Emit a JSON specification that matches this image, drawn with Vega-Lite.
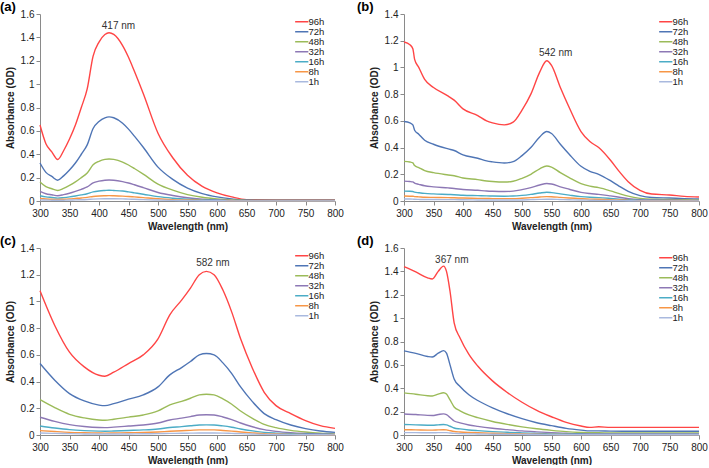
{
"$schema": "https://vega.github.io/schema/vega-lite/v6.json",
"padding": {"left": 0, "top": 1, "right": 0, "bottom": 0},
"autosize": {"type": "pad"},
"datasets": {
"a": [
{"s":"96h","x":300,"y":0.65},{"s":"96h","x":310,"y":0.49},{"s":"96h","x":320,"y":0.42},{"s":"96h","x":330,"y":0.355},{"s":"96h","x":340,"y":0.43},{"s":"96h","x":350,"y":0.53},{"s":"96h","x":360,"y":0.65},{"s":"96h","x":370,"y":0.8},{"s":"96h","x":380,"y":0.96},{"s":"96h","x":390,"y":1.24},{"s":"96h","x":400,"y":1.36},{"s":"96h","x":410,"y":1.425},{"s":"96h","x":417,"y":1.44},{"s":"96h","x":425,"y":1.425},{"s":"96h","x":440,"y":1.33},{"s":"96h","x":450,"y":1.23},{"s":"96h","x":460,"y":1.11},{"s":"96h","x":475,"y":0.92},{"s":"96h","x":500,"y":0.58},{"s":"96h","x":525,"y":0.37},{"s":"96h","x":550,"y":0.22},{"s":"96h","x":575,"y":0.125},{"s":"96h","x":600,"y":0.07},{"s":"96h","x":625,"y":0.035},{"s":"96h","x":650,"y":0.012},{"s":"96h","x":700,"y":0.01},{"s":"96h","x":750,"y":0.01},{"s":"96h","x":800,"y":0.01},
{"s":"72h","x":300,"y":0.325},{"s":"72h","x":310,"y":0.245},{"s":"72h","x":320,"y":0.21},{"s":"72h","x":330,"y":0.178},{"s":"72h","x":340,"y":0.215},{"s":"72h","x":350,"y":0.265},{"s":"72h","x":360,"y":0.325},{"s":"72h","x":370,"y":0.4},{"s":"72h","x":380,"y":0.48},{"s":"72h","x":390,"y":0.62},{"s":"72h","x":400,"y":0.68},{"s":"72h","x":410,"y":0.712},{"s":"72h","x":417,"y":0.72},{"s":"72h","x":425,"y":0.712},{"s":"72h","x":440,"y":0.665},{"s":"72h","x":450,"y":0.615},{"s":"72h","x":460,"y":0.555},{"s":"72h","x":475,"y":0.46},{"s":"72h","x":500,"y":0.29},{"s":"72h","x":525,"y":0.185},{"s":"72h","x":550,"y":0.11},{"s":"72h","x":575,"y":0.063},{"s":"72h","x":600,"y":0.035},{"s":"72h","x":625,"y":0.018},{"s":"72h","x":650,"y":0.008},{"s":"72h","x":700,"y":0.007},{"s":"72h","x":750,"y":0.007},{"s":"72h","x":800,"y":0.007},
{"s":"48h","x":300,"y":0.163},{"s":"48h","x":310,"y":0.123},{"s":"48h","x":320,"y":0.105},{"s":"48h","x":330,"y":0.09},{"s":"48h","x":340,"y":0.108},{"s":"48h","x":350,"y":0.133},{"s":"48h","x":360,"y":0.163},{"s":"48h","x":370,"y":0.2},{"s":"48h","x":380,"y":0.24},{"s":"48h","x":390,"y":0.31},{"s":"48h","x":400,"y":0.34},{"s":"48h","x":410,"y":0.356},{"s":"48h","x":417,"y":0.36},{"s":"48h","x":425,"y":0.356},{"s":"48h","x":440,"y":0.333},{"s":"48h","x":450,"y":0.308},{"s":"48h","x":460,"y":0.278},{"s":"48h","x":475,"y":0.23},{"s":"48h","x":500,"y":0.145},{"s":"48h","x":525,"y":0.093},{"s":"48h","x":550,"y":0.055},{"s":"48h","x":575,"y":0.032},{"s":"48h","x":600,"y":0.018},{"s":"48h","x":625,"y":0.009},{"s":"48h","x":650,"y":0.005},{"s":"48h","x":700,"y":0.005},{"s":"48h","x":750,"y":0.005},{"s":"48h","x":800,"y":0.005},
{"s":"32h","x":300,"y":0.082},{"s":"32h","x":310,"y":0.062},{"s":"32h","x":320,"y":0.053},{"s":"32h","x":330,"y":0.045},{"s":"32h","x":340,"y":0.054},{"s":"32h","x":350,"y":0.066},{"s":"32h","x":360,"y":0.082},{"s":"32h","x":370,"y":0.1},{"s":"32h","x":380,"y":0.12},{"s":"32h","x":390,"y":0.155},{"s":"32h","x":400,"y":0.17},{"s":"32h","x":410,"y":0.178},{"s":"32h","x":417,"y":0.18},{"s":"32h","x":425,"y":0.178},{"s":"32h","x":440,"y":0.166},{"s":"32h","x":450,"y":0.154},{"s":"32h","x":460,"y":0.139},{"s":"32h","x":475,"y":0.115},{"s":"32h","x":500,"y":0.073},{"s":"32h","x":525,"y":0.047},{"s":"32h","x":550,"y":0.028},{"s":"32h","x":575,"y":0.016},{"s":"32h","x":600,"y":0.009},{"s":"32h","x":625,"y":0.005},{"s":"32h","x":650,"y":0.003},{"s":"32h","x":700,"y":0.003},{"s":"32h","x":750,"y":0.003},{"s":"32h","x":800,"y":0.003},
{"s":"16h","x":300,"y":0.045},{"s":"16h","x":310,"y":0.035},{"s":"16h","x":320,"y":0.03},{"s":"16h","x":330,"y":0.025},{"s":"16h","x":340,"y":0.029},{"s":"16h","x":350,"y":0.035},{"s":"16h","x":360,"y":0.043},{"s":"16h","x":370,"y":0.052},{"s":"16h","x":380,"y":0.062},{"s":"16h","x":390,"y":0.078},{"s":"16h","x":400,"y":0.086},{"s":"16h","x":410,"y":0.09},{"s":"16h","x":417,"y":0.092},{"s":"16h","x":425,"y":0.09},{"s":"16h","x":440,"y":0.085},{"s":"16h","x":450,"y":0.078},{"s":"16h","x":460,"y":0.07},{"s":"16h","x":475,"y":0.058},{"s":"16h","x":500,"y":0.037},{"s":"16h","x":525,"y":0.024},{"s":"16h","x":550,"y":0.015},{"s":"16h","x":575,"y":0.009},{"s":"16h","x":600,"y":0.005},{"s":"16h","x":625,"y":0.003},{"s":"16h","x":650,"y":0.002},{"s":"16h","x":700,"y":0.002},{"s":"16h","x":750,"y":0.002},{"s":"16h","x":800,"y":0.002},
{"s":"8h","x":300,"y":0.022},{"s":"8h","x":310,"y":0.017},{"s":"8h","x":320,"y":0.015},{"s":"8h","x":330,"y":0.013},{"s":"8h","x":340,"y":0.015},{"s":"8h","x":350,"y":0.018},{"s":"8h","x":360,"y":0.022},{"s":"8h","x":370,"y":0.026},{"s":"8h","x":380,"y":0.031},{"s":"8h","x":390,"y":0.039},{"s":"8h","x":400,"y":0.043},{"s":"8h","x":410,"y":0.045},{"s":"8h","x":417,"y":0.046},{"s":"8h","x":425,"y":0.045},{"s":"8h","x":440,"y":0.042},{"s":"8h","x":450,"y":0.039},{"s":"8h","x":460,"y":0.035},{"s":"8h","x":475,"y":0.029},{"s":"8h","x":500,"y":0.019},{"s":"8h","x":525,"y":0.012},{"s":"8h","x":550,"y":0.008},{"s":"8h","x":575,"y":0.005},{"s":"8h","x":600,"y":0.003},{"s":"8h","x":625,"y":0.002},{"s":"8h","x":650,"y":0.001},{"s":"8h","x":700,"y":0.001},{"s":"8h","x":750,"y":0.001},{"s":"8h","x":800,"y":0.001},
{"s":"1h","x":300,"y":0.01},{"s":"1h","x":310,"y":0.008},{"s":"1h","x":320,"y":0.007},{"s":"1h","x":330,"y":0.006},{"s":"1h","x":340,"y":0.007},{"s":"1h","x":350,"y":0.008},{"s":"1h","x":360,"y":0.01},{"s":"1h","x":370,"y":0.011},{"s":"1h","x":380,"y":0.013},{"s":"1h","x":390,"y":0.016},{"s":"1h","x":400,"y":0.018},{"s":"1h","x":410,"y":0.019},{"s":"1h","x":417,"y":0.019},{"s":"1h","x":425,"y":0.019},{"s":"1h","x":440,"y":0.018},{"s":"1h","x":450,"y":0.016},{"s":"1h","x":460,"y":0.015},{"s":"1h","x":475,"y":0.012},{"s":"1h","x":500,"y":0.008},{"s":"1h","x":525,"y":0.005},{"s":"1h","x":550,"y":0.004},{"s":"1h","x":575,"y":0.002},{"s":"1h","x":600,"y":0.002},{"s":"1h","x":625,"y":0.001},{"s":"1h","x":650,"y":0.001},{"s":"1h","x":700,"y":0.001},{"s":"1h","x":750,"y":0.001},{"s":"1h","x":800,"y":0.001}
],
"b": [
{"s":"96h","x":300,"y":1.19},{"s":"96h","x":310,"y":1.17},{"s":"96h","x":315,"y":1.14},{"s":"96h","x":318,"y":1.06},{"s":"96h","x":325,"y":1.0},{"s":"96h","x":335,"y":0.91},{"s":"96h","x":350,"y":0.85},{"s":"96h","x":375,"y":0.785},{"s":"96h","x":385,"y":0.755},{"s":"96h","x":400,"y":0.69},{"s":"96h","x":425,"y":0.64},{"s":"96h","x":440,"y":0.6},{"s":"96h","x":450,"y":0.585},{"s":"96h","x":470,"y":0.57},{"s":"96h","x":485,"y":0.59},{"s":"96h","x":500,"y":0.68},{"s":"96h","x":515,"y":0.8},{"s":"96h","x":530,"y":0.965},{"s":"96h","x":542,"y":1.05},{"s":"96h","x":550,"y":1.015},{"s":"96h","x":565,"y":0.85},{"s":"96h","x":580,"y":0.7},{"s":"96h","x":600,"y":0.52},{"s":"96h","x":615,"y":0.445},{"s":"96h","x":630,"y":0.4},{"s":"96h","x":650,"y":0.305},{"s":"96h","x":665,"y":0.22},{"s":"96h","x":680,"y":0.145},{"s":"96h","x":700,"y":0.08},{"s":"96h","x":720,"y":0.052},{"s":"96h","x":750,"y":0.045},{"s":"96h","x":775,"y":0.035},{"s":"96h","x":800,"y":0.03},
{"s":"72h","x":300,"y":0.595},{"s":"72h","x":310,"y":0.585},{"s":"72h","x":315,"y":0.57},{"s":"72h","x":318,"y":0.53},{"s":"72h","x":325,"y":0.5},{"s":"72h","x":335,"y":0.455},{"s":"72h","x":350,"y":0.425},{"s":"72h","x":375,"y":0.39},{"s":"72h","x":385,"y":0.378},{"s":"72h","x":400,"y":0.345},{"s":"72h","x":425,"y":0.32},{"s":"72h","x":440,"y":0.3},{"s":"72h","x":450,"y":0.293},{"s":"72h","x":470,"y":0.285},{"s":"72h","x":485,"y":0.295},{"s":"72h","x":500,"y":0.34},{"s":"72h","x":515,"y":0.4},{"s":"72h","x":530,"y":0.48},{"s":"72h","x":542,"y":0.52},{"s":"72h","x":550,"y":0.505},{"s":"72h","x":565,"y":0.425},{"s":"72h","x":580,"y":0.35},{"s":"72h","x":600,"y":0.26},{"s":"72h","x":615,"y":0.222},{"s":"72h","x":630,"y":0.2},{"s":"72h","x":650,"y":0.152},{"s":"72h","x":665,"y":0.11},{"s":"72h","x":680,"y":0.072},{"s":"72h","x":700,"y":0.04},{"s":"72h","x":720,"y":0.026},{"s":"72h","x":750,"y":0.022},{"s":"72h","x":775,"y":0.018},{"s":"72h","x":800,"y":0.015},
{"s":"48h","x":300,"y":0.297},{"s":"48h","x":310,"y":0.292},{"s":"48h","x":315,"y":0.285},{"s":"48h","x":318,"y":0.265},{"s":"48h","x":325,"y":0.25},{"s":"48h","x":335,"y":0.228},{"s":"48h","x":350,"y":0.212},{"s":"48h","x":375,"y":0.195},{"s":"48h","x":385,"y":0.189},{"s":"48h","x":400,"y":0.172},{"s":"48h","x":425,"y":0.16},{"s":"48h","x":440,"y":0.15},{"s":"48h","x":450,"y":0.146},{"s":"48h","x":470,"y":0.142},{"s":"48h","x":485,"y":0.148},{"s":"48h","x":500,"y":0.17},{"s":"48h","x":515,"y":0.2},{"s":"48h","x":530,"y":0.241},{"s":"48h","x":542,"y":0.262},{"s":"48h","x":550,"y":0.254},{"s":"48h","x":565,"y":0.212},{"s":"48h","x":580,"y":0.175},{"s":"48h","x":600,"y":0.13},{"s":"48h","x":615,"y":0.111},{"s":"48h","x":630,"y":0.1},{"s":"48h","x":650,"y":0.076},{"s":"48h","x":665,"y":0.055},{"s":"48h","x":680,"y":0.036},{"s":"48h","x":700,"y":0.02},{"s":"48h","x":720,"y":0.013},{"s":"48h","x":750,"y":0.011},{"s":"48h","x":775,"y":0.009},{"s":"48h","x":800,"y":0.008},
{"s":"32h","x":300,"y":0.149},{"s":"32h","x":310,"y":0.146},{"s":"32h","x":315,"y":0.143},{"s":"32h","x":318,"y":0.133},{"s":"32h","x":325,"y":0.125},{"s":"32h","x":335,"y":0.114},{"s":"32h","x":350,"y":0.106},{"s":"32h","x":375,"y":0.098},{"s":"32h","x":385,"y":0.094},{"s":"32h","x":400,"y":0.086},{"s":"32h","x":425,"y":0.08},{"s":"32h","x":440,"y":0.075},{"s":"32h","x":450,"y":0.073},{"s":"32h","x":470,"y":0.071},{"s":"32h","x":485,"y":0.074},{"s":"32h","x":500,"y":0.085},{"s":"32h","x":515,"y":0.1},{"s":"32h","x":530,"y":0.12},{"s":"32h","x":542,"y":0.131},{"s":"32h","x":550,"y":0.127},{"s":"32h","x":565,"y":0.106},{"s":"32h","x":580,"y":0.088},{"s":"32h","x":600,"y":0.065},{"s":"32h","x":615,"y":0.056},{"s":"32h","x":630,"y":0.05},{"s":"32h","x":650,"y":0.038},{"s":"32h","x":665,"y":0.028},{"s":"32h","x":680,"y":0.018},{"s":"32h","x":700,"y":0.01},{"s":"32h","x":720,"y":0.007},{"s":"32h","x":750,"y":0.006},{"s":"32h","x":775,"y":0.005},{"s":"32h","x":800,"y":0.004},
{"s":"16h","x":300,"y":0.074},{"s":"16h","x":310,"y":0.073},{"s":"16h","x":315,"y":0.071},{"s":"16h","x":318,"y":0.066},{"s":"16h","x":325,"y":0.062},{"s":"16h","x":335,"y":0.057},{"s":"16h","x":350,"y":0.053},{"s":"16h","x":375,"y":0.049},{"s":"16h","x":385,"y":0.047},{"s":"16h","x":400,"y":0.043},{"s":"16h","x":425,"y":0.04},{"s":"16h","x":440,"y":0.038},{"s":"16h","x":450,"y":0.037},{"s":"16h","x":470,"y":0.036},{"s":"16h","x":485,"y":0.037},{"s":"16h","x":500,"y":0.042},{"s":"16h","x":515,"y":0.05},{"s":"16h","x":530,"y":0.06},{"s":"16h","x":542,"y":0.066},{"s":"16h","x":550,"y":0.063},{"s":"16h","x":565,"y":0.053},{"s":"16h","x":580,"y":0.044},{"s":"16h","x":600,"y":0.033},{"s":"16h","x":615,"y":0.028},{"s":"16h","x":630,"y":0.025},{"s":"16h","x":650,"y":0.019},{"s":"16h","x":665,"y":0.014},{"s":"16h","x":680,"y":0.009},{"s":"16h","x":700,"y":0.005},{"s":"16h","x":720,"y":0.004},{"s":"16h","x":750,"y":0.003},{"s":"16h","x":775,"y":0.003},{"s":"16h","x":800,"y":0.002},
{"s":"8h","x":300,"y":0.037},{"s":"8h","x":310,"y":0.036},{"s":"8h","x":315,"y":0.036},{"s":"8h","x":318,"y":0.033},{"s":"8h","x":325,"y":0.031},{"s":"8h","x":335,"y":0.028},{"s":"8h","x":350,"y":0.027},{"s":"8h","x":375,"y":0.025},{"s":"8h","x":385,"y":0.024},{"s":"8h","x":400,"y":0.022},{"s":"8h","x":425,"y":0.02},{"s":"8h","x":440,"y":0.019},{"s":"8h","x":450,"y":0.018},{"s":"8h","x":470,"y":0.018},{"s":"8h","x":485,"y":0.018},{"s":"8h","x":500,"y":0.021},{"s":"8h","x":515,"y":0.025},{"s":"8h","x":530,"y":0.03},{"s":"8h","x":542,"y":0.033},{"s":"8h","x":550,"y":0.032},{"s":"8h","x":565,"y":0.027},{"s":"8h","x":580,"y":0.022},{"s":"8h","x":600,"y":0.017},{"s":"8h","x":615,"y":0.014},{"s":"8h","x":630,"y":0.013},{"s":"8h","x":650,"y":0.01},{"s":"8h","x":665,"y":0.007},{"s":"8h","x":680,"y":0.005},{"s":"8h","x":700,"y":0.003},{"s":"8h","x":720,"y":0.002},{"s":"8h","x":750,"y":0.002},{"s":"8h","x":775,"y":0.002},{"s":"8h","x":800,"y":0.001},
{"s":"1h","x":300,"y":0.015},{"s":"1h","x":310,"y":0.015},{"s":"1h","x":315,"y":0.014},{"s":"1h","x":318,"y":0.013},{"s":"1h","x":325,"y":0.012},{"s":"1h","x":335,"y":0.011},{"s":"1h","x":350,"y":0.011},{"s":"1h","x":375,"y":0.01},{"s":"1h","x":385,"y":0.01},{"s":"1h","x":400,"y":0.009},{"s":"1h","x":425,"y":0.008},{"s":"1h","x":440,"y":0.008},{"s":"1h","x":450,"y":0.007},{"s":"1h","x":470,"y":0.007},{"s":"1h","x":485,"y":0.007},{"s":"1h","x":500,"y":0.008},{"s":"1h","x":515,"y":0.01},{"s":"1h","x":530,"y":0.012},{"s":"1h","x":542,"y":0.013},{"s":"1h","x":550,"y":0.013},{"s":"1h","x":565,"y":0.011},{"s":"1h","x":580,"y":0.009},{"s":"1h","x":600,"y":0.007},{"s":"1h","x":615,"y":0.006},{"s":"1h","x":630,"y":0.005},{"s":"1h","x":650,"y":0.004},{"s":"1h","x":665,"y":0.003},{"s":"1h","x":680,"y":0.002},{"s":"1h","x":700,"y":0.001},{"s":"1h","x":720,"y":0.001},{"s":"1h","x":750,"y":0.001},{"s":"1h","x":775,"y":0.001},{"s":"1h","x":800,"y":0.001}
],
"c": [
{"s":"96h","x":300,"y":1.08},{"s":"96h","x":325,"y":0.82},{"s":"96h","x":350,"y":0.62},{"s":"96h","x":375,"y":0.51},{"s":"96h","x":400,"y":0.447},{"s":"96h","x":410,"y":0.44},{"s":"96h","x":425,"y":0.47},{"s":"96h","x":450,"y":0.535},{"s":"96h","x":475,"y":0.6},{"s":"96h","x":500,"y":0.72},{"s":"96h","x":520,"y":0.9},{"s":"96h","x":540,"y":1.01},{"s":"96h","x":555,"y":1.1},{"s":"96h","x":570,"y":1.2},{"s":"96h","x":582,"y":1.225},{"s":"96h","x":595,"y":1.2},{"s":"96h","x":610,"y":1.085},{"s":"96h","x":625,"y":0.92},{"s":"96h","x":640,"y":0.72},{"s":"96h","x":660,"y":0.5},{"s":"96h","x":680,"y":0.32},{"s":"96h","x":700,"y":0.22},{"s":"96h","x":725,"y":0.16},{"s":"96h","x":750,"y":0.108},{"s":"96h","x":775,"y":0.07},{"s":"96h","x":800,"y":0.05},
{"s":"72h","x":300,"y":0.535},{"s":"72h","x":325,"y":0.41},{"s":"72h","x":350,"y":0.31},{"s":"72h","x":375,"y":0.255},{"s":"72h","x":400,"y":0.224},{"s":"72h","x":410,"y":0.22},{"s":"72h","x":425,"y":0.235},{"s":"72h","x":450,"y":0.268},{"s":"72h","x":475,"y":0.3},{"s":"72h","x":500,"y":0.36},{"s":"72h","x":520,"y":0.45},{"s":"72h","x":540,"y":0.505},{"s":"72h","x":555,"y":0.55},{"s":"72h","x":570,"y":0.6},{"s":"72h","x":582,"y":0.61},{"s":"72h","x":595,"y":0.6},{"s":"72h","x":610,"y":0.54},{"s":"72h","x":625,"y":0.46},{"s":"72h","x":640,"y":0.36},{"s":"72h","x":660,"y":0.25},{"s":"72h","x":680,"y":0.16},{"s":"72h","x":700,"y":0.115},{"s":"72h","x":725,"y":0.075},{"s":"72h","x":750,"y":0.048},{"s":"72h","x":775,"y":0.03},{"s":"72h","x":800,"y":0.02},
{"s":"48h","x":300,"y":0.265},{"s":"48h","x":325,"y":0.205},{"s":"48h","x":350,"y":0.155},{"s":"48h","x":375,"y":0.128},{"s":"48h","x":400,"y":0.112},{"s":"48h","x":410,"y":0.11},{"s":"48h","x":425,"y":0.118},{"s":"48h","x":450,"y":0.134},{"s":"48h","x":475,"y":0.15},{"s":"48h","x":500,"y":0.18},{"s":"48h","x":520,"y":0.225},{"s":"48h","x":540,"y":0.252},{"s":"48h","x":555,"y":0.275},{"s":"48h","x":570,"y":0.3},{"s":"48h","x":582,"y":0.305},{"s":"48h","x":595,"y":0.3},{"s":"48h","x":610,"y":0.27},{"s":"48h","x":625,"y":0.23},{"s":"48h","x":640,"y":0.18},{"s":"48h","x":660,"y":0.125},{"s":"48h","x":680,"y":0.08},{"s":"48h","x":700,"y":0.055},{"s":"48h","x":725,"y":0.035},{"s":"48h","x":750,"y":0.022},{"s":"48h","x":775,"y":0.013},{"s":"48h","x":800,"y":0.008},
{"s":"32h","x":300,"y":0.133},{"s":"32h","x":325,"y":0.102},{"s":"32h","x":350,"y":0.078},{"s":"32h","x":375,"y":0.064},{"s":"32h","x":400,"y":0.056},{"s":"32h","x":410,"y":0.055},{"s":"32h","x":425,"y":0.059},{"s":"32h","x":450,"y":0.067},{"s":"32h","x":475,"y":0.075},{"s":"32h","x":500,"y":0.09},{"s":"32h","x":520,"y":0.112},{"s":"32h","x":540,"y":0.126},{"s":"32h","x":555,"y":0.138},{"s":"32h","x":570,"y":0.15},{"s":"32h","x":582,"y":0.152},{"s":"32h","x":595,"y":0.15},{"s":"32h","x":610,"y":0.135},{"s":"32h","x":625,"y":0.115},{"s":"32h","x":640,"y":0.09},{"s":"32h","x":660,"y":0.062},{"s":"32h","x":680,"y":0.04},{"s":"32h","x":700,"y":0.027},{"s":"32h","x":725,"y":0.017},{"s":"32h","x":750,"y":0.011},{"s":"32h","x":775,"y":0.007},{"s":"32h","x":800,"y":0.005},
{"s":"16h","x":300,"y":0.067},{"s":"16h","x":325,"y":0.052},{"s":"16h","x":350,"y":0.04},{"s":"16h","x":375,"y":0.033},{"s":"16h","x":400,"y":0.029},{"s":"16h","x":410,"y":0.028},{"s":"16h","x":425,"y":0.03},{"s":"16h","x":450,"y":0.034},{"s":"16h","x":475,"y":0.038},{"s":"16h","x":500,"y":0.045},{"s":"16h","x":520,"y":0.056},{"s":"16h","x":540,"y":0.063},{"s":"16h","x":555,"y":0.069},{"s":"16h","x":570,"y":0.075},{"s":"16h","x":582,"y":0.076},{"s":"16h","x":595,"y":0.075},{"s":"16h","x":610,"y":0.068},{"s":"16h","x":625,"y":0.058},{"s":"16h","x":640,"y":0.045},{"s":"16h","x":660,"y":0.031},{"s":"16h","x":680,"y":0.02},{"s":"16h","x":700,"y":0.014},{"s":"16h","x":725,"y":0.009},{"s":"16h","x":750,"y":0.006},{"s":"16h","x":775,"y":0.004},{"s":"16h","x":800,"y":0.003},
{"s":"8h","x":300,"y":0.033},{"s":"8h","x":325,"y":0.026},{"s":"8h","x":350,"y":0.02},{"s":"8h","x":375,"y":0.017},{"s":"8h","x":400,"y":0.015},{"s":"8h","x":410,"y":0.014},{"s":"8h","x":425,"y":0.015},{"s":"8h","x":450,"y":0.017},{"s":"8h","x":475,"y":0.019},{"s":"8h","x":500,"y":0.023},{"s":"8h","x":520,"y":0.028},{"s":"8h","x":540,"y":0.032},{"s":"8h","x":555,"y":0.035},{"s":"8h","x":570,"y":0.038},{"s":"8h","x":582,"y":0.038},{"s":"8h","x":595,"y":0.038},{"s":"8h","x":610,"y":0.034},{"s":"8h","x":625,"y":0.029},{"s":"8h","x":640,"y":0.023},{"s":"8h","x":660,"y":0.016},{"s":"8h","x":680,"y":0.01},{"s":"8h","x":700,"y":0.007},{"s":"8h","x":725,"y":0.005},{"s":"8h","x":750,"y":0.003},{"s":"8h","x":775,"y":0.002},{"s":"8h","x":800,"y":0.002},
{"s":"1h","x":300,"y":0.015},{"s":"1h","x":325,"y":0.012},{"s":"1h","x":350,"y":0.01},{"s":"1h","x":375,"y":0.008},{"s":"1h","x":400,"y":0.007},{"s":"1h","x":410,"y":0.007},{"s":"1h","x":425,"y":0.007},{"s":"1h","x":450,"y":0.008},{"s":"1h","x":475,"y":0.009},{"s":"1h","x":500,"y":0.01},{"s":"1h","x":520,"y":0.012},{"s":"1h","x":540,"y":0.013},{"s":"1h","x":555,"y":0.014},{"s":"1h","x":570,"y":0.015},{"s":"1h","x":582,"y":0.015},{"s":"1h","x":595,"y":0.015},{"s":"1h","x":610,"y":0.014},{"s":"1h","x":625,"y":0.012},{"s":"1h","x":640,"y":0.01},{"s":"1h","x":660,"y":0.007},{"s":"1h","x":680,"y":0.005},{"s":"1h","x":700,"y":0.004},{"s":"1h","x":725,"y":0.003},{"s":"1h","x":750,"y":0.002},{"s":"1h","x":775,"y":0.002},{"s":"1h","x":800,"y":0.001}
],
"d": [
{"s":"96h","x":300,"y":1.44},{"s":"96h","x":320,"y":1.395},{"s":"96h","x":340,"y":1.345},{"s":"96h","x":348,"y":1.335},{"s":"96h","x":358,"y":1.4},{"s":"96h","x":367,"y":1.445},{"s":"96h","x":372,"y":1.4},{"s":"96h","x":378,"y":1.23},{"s":"96h","x":385,"y":0.96},{"s":"96h","x":395,"y":0.83},{"s":"96h","x":410,"y":0.69},{"s":"96h","x":425,"y":0.59},{"s":"96h","x":450,"y":0.463},{"s":"96h","x":475,"y":0.364},{"s":"96h","x":500,"y":0.28},{"s":"96h","x":525,"y":0.21},{"s":"96h","x":550,"y":0.156},{"s":"96h","x":575,"y":0.108},{"s":"96h","x":600,"y":0.077},{"s":"96h","x":615,"y":0.065},{"s":"96h","x":630,"y":0.07},{"s":"96h","x":650,"y":0.065},{"s":"96h","x":700,"y":0.065},{"s":"96h","x":750,"y":0.065},{"s":"96h","x":800,"y":0.065},
{"s":"72h","x":300,"y":0.72},{"s":"72h","x":320,"y":0.698},{"s":"72h","x":340,"y":0.672},{"s":"72h","x":348,"y":0.667},{"s":"72h","x":358,"y":0.7},{"s":"72h","x":367,"y":0.722},{"s":"72h","x":372,"y":0.7},{"s":"72h","x":378,"y":0.6},{"s":"72h","x":385,"y":0.48},{"s":"72h","x":395,"y":0.415},{"s":"72h","x":410,"y":0.345},{"s":"72h","x":425,"y":0.295},{"s":"72h","x":450,"y":0.232},{"s":"72h","x":475,"y":0.182},{"s":"72h","x":500,"y":0.14},{"s":"72h","x":525,"y":0.105},{"s":"72h","x":550,"y":0.08},{"s":"72h","x":575,"y":0.057},{"s":"72h","x":600,"y":0.042},{"s":"72h","x":615,"y":0.035},{"s":"72h","x":630,"y":0.035},{"s":"72h","x":650,"y":0.033},{"s":"72h","x":700,"y":0.032},{"s":"72h","x":750,"y":0.032},{"s":"72h","x":800,"y":0.032},
{"s":"48h","x":300,"y":0.36},{"s":"48h","x":320,"y":0.349},{"s":"48h","x":340,"y":0.336},{"s":"48h","x":348,"y":0.334},{"s":"48h","x":358,"y":0.35},{"s":"48h","x":367,"y":0.362},{"s":"48h","x":372,"y":0.35},{"s":"48h","x":378,"y":0.3},{"s":"48h","x":385,"y":0.24},{"s":"48h","x":395,"y":0.207},{"s":"48h","x":410,"y":0.172},{"s":"48h","x":425,"y":0.148},{"s":"48h","x":450,"y":0.116},{"s":"48h","x":475,"y":0.091},{"s":"48h","x":500,"y":0.07},{"s":"48h","x":525,"y":0.053},{"s":"48h","x":550,"y":0.04},{"s":"48h","x":575,"y":0.029},{"s":"48h","x":600,"y":0.022},{"s":"48h","x":615,"y":0.019},{"s":"48h","x":630,"y":0.019},{"s":"48h","x":650,"y":0.018},{"s":"48h","x":700,"y":0.018},{"s":"48h","x":750,"y":0.018},{"s":"48h","x":800,"y":0.018},
{"s":"32h","x":300,"y":0.18},{"s":"32h","x":320,"y":0.175},{"s":"32h","x":340,"y":0.168},{"s":"32h","x":348,"y":0.167},{"s":"32h","x":358,"y":0.175},{"s":"32h","x":367,"y":0.181},{"s":"32h","x":372,"y":0.175},{"s":"32h","x":378,"y":0.15},{"s":"32h","x":385,"y":0.12},{"s":"32h","x":395,"y":0.104},{"s":"32h","x":410,"y":0.086},{"s":"32h","x":425,"y":0.074},{"s":"32h","x":450,"y":0.058},{"s":"32h","x":475,"y":0.046},{"s":"32h","x":500,"y":0.035},{"s":"32h","x":525,"y":0.027},{"s":"32h","x":550,"y":0.02},{"s":"32h","x":575,"y":0.015},{"s":"32h","x":600,"y":0.011},{"s":"32h","x":615,"y":0.01},{"s":"32h","x":630,"y":0.01},{"s":"32h","x":650,"y":0.009},{"s":"32h","x":700,"y":0.009},{"s":"32h","x":750,"y":0.009},{"s":"32h","x":800,"y":0.009},
{"s":"16h","x":300,"y":0.09},{"s":"16h","x":320,"y":0.087},{"s":"16h","x":340,"y":0.084},{"s":"16h","x":348,"y":0.083},{"s":"16h","x":358,"y":0.087},{"s":"16h","x":367,"y":0.09},{"s":"16h","x":372,"y":0.087},{"s":"16h","x":378,"y":0.075},{"s":"16h","x":385,"y":0.06},{"s":"16h","x":395,"y":0.052},{"s":"16h","x":410,"y":0.043},{"s":"16h","x":425,"y":0.037},{"s":"16h","x":450,"y":0.029},{"s":"16h","x":475,"y":0.023},{"s":"16h","x":500,"y":0.018},{"s":"16h","x":525,"y":0.014},{"s":"16h","x":550,"y":0.01},{"s":"16h","x":575,"y":0.008},{"s":"16h","x":600,"y":0.006},{"s":"16h","x":615,"y":0.005},{"s":"16h","x":630,"y":0.005},{"s":"16h","x":650,"y":0.005},{"s":"16h","x":700,"y":0.005},{"s":"16h","x":750,"y":0.005},{"s":"16h","x":800,"y":0.005},
{"s":"8h","x":300,"y":0.045},{"s":"8h","x":320,"y":0.044},{"s":"8h","x":340,"y":0.042},{"s":"8h","x":348,"y":0.042},{"s":"8h","x":358,"y":0.044},{"s":"8h","x":367,"y":0.045},{"s":"8h","x":372,"y":0.044},{"s":"8h","x":378,"y":0.037},{"s":"8h","x":385,"y":0.03},{"s":"8h","x":395,"y":0.026},{"s":"8h","x":410,"y":0.022},{"s":"8h","x":425,"y":0.019},{"s":"8h","x":450,"y":0.015},{"s":"8h","x":475,"y":0.012},{"s":"8h","x":500,"y":0.009},{"s":"8h","x":525,"y":0.007},{"s":"8h","x":550,"y":0.005},{"s":"8h","x":575,"y":0.004},{"s":"8h","x":600,"y":0.003},{"s":"8h","x":615,"y":0.003},{"s":"8h","x":630,"y":0.003},{"s":"8h","x":650,"y":0.003},{"s":"8h","x":700,"y":0.003},{"s":"8h","x":750,"y":0.003},{"s":"8h","x":800,"y":0.003},
{"s":"1h","x":300,"y":0.02},{"s":"1h","x":320,"y":0.02},{"s":"1h","x":340,"y":0.019},{"s":"1h","x":348,"y":0.019},{"s":"1h","x":358,"y":0.02},{"s":"1h","x":367,"y":0.02},{"s":"1h","x":372,"y":0.02},{"s":"1h","x":378,"y":0.017},{"s":"1h","x":385,"y":0.014},{"s":"1h","x":395,"y":0.012},{"s":"1h","x":410,"y":0.01},{"s":"1h","x":425,"y":0.009},{"s":"1h","x":450,"y":0.007},{"s":"1h","x":475,"y":0.006},{"s":"1h","x":500,"y":0.005},{"s":"1h","x":525,"y":0.004},{"s":"1h","x":550,"y":0.003},{"s":"1h","x":575,"y":0.002},{"s":"1h","x":600,"y":0.002},{"s":"1h","x":615,"y":0.002},{"s":"1h","x":630,"y":0.002},{"s":"1h","x":650,"y":0.002},{"s":"1h","x":700,"y":0.002},{"s":"1h","x":750,"y":0.002},{"s":"1h","x":800,"y":0.002}
]
},
"config": {
  "font": "Liberation Sans",
  "view": {"stroke": null},
  "axis": {"domainColor": "#8a8a8a", "tickColor": "#8a8a8a", "tickSize": 4, "labelFontSize": 10, "labelColor": "#222", "titleFontSize": 10, "titleFontWeight": "bold", "titleColor": "#222", "grid": false, "labelPadding": 2, "labelFlush": false, "tickCount": 20},
  "axisY": {"titlePadding": 5},
  "axisX": {"titlePadding": 3, "labelPadding": 3},
  "legend": {"orient": "none", "legendX": 257, "legendY": 3, "title": null, "symbolType": "M-2.2,0H2.2", "symbolSize": 36, "symbolStrokeWidth": 1.5, "labelFontSize": 9.5, "labelOffset": 2, "padding": 0, "rowPadding": -5, "labelColor": "#222"},
  "title": {"fontSize": 13, "fontWeight": "bold", "anchor": "start", "frame": "group", "offset": -5, "color": "#000"},
  "text": {"fontSize": 10, "color": "#333"}
},
"resolve": {"scale": {"color": "independent"}, "legend": {"color": "independent"}},
"columns": 2,
"bounds": "flush",
"spacing": {"row": 47, "column": 69},
"concat": [
{
 "width": 295, "height": 187,
 "title": {"text": "(a)", "dx": -40},
 "layer": [
  {"data": {"name": "a"},
   "mark": {"type": "line", "interpolate": "monotone", "strokeWidth": 1.4},
   "encoding": {
    "x": {"field": "x", "type": "quantitative", "scale": {"domain": [300, 800], "nice": false}, "axis": {"values": [300,350,400,450,500,550,600,650,700,750,800], "tickCount": 20, "labelOverlap": false, "title": "Wavelength (nm)"}},
    "y": {"field": "y", "type": "quantitative", "scale": {"domain": [0, 1.6], "nice": false}, "axis": {"values": [0,0.2,0.4,0.6,0.8,1,1.2,1.4,1.6], "tickCount": 20, "labelOverlap": false, "format": ".1~f", "title": "Absorbance (OD)"}},
    "color": {"field": "s", "type": "nominal", "scale": {"domain": ["96h","72h","48h","32h","16h","8h","1h"], "range": ["#FF4545","#4F75B5","#9BBB59","#8D78B5","#4BACC6","#F79646","#A9B9DE"]}}
   }},
  {"data": {"values": [{"x": 433, "y": 1.5, "t": "417 nm"}]},
   "mark": {"type": "text"},
   "encoding": {"x": {"field": "x", "type": "quantitative"}, "y": {"field": "y", "type": "quantitative"}, "text": {"field": "t"}}}
 ]
},
{
 "width": 295, "height": 187,
 "title": {"text": "(b)", "dx": -47},
 "layer": [
  {"data": {"name": "b"},
   "mark": {"type": "line", "interpolate": "monotone", "strokeWidth": 1.4},
   "encoding": {
    "x": {"field": "x", "type": "quantitative", "scale": {"domain": [300, 800], "nice": false}, "axis": {"values": [300,350,400,450,500,550,600,650,700,750,800], "tickCount": 20, "labelOverlap": false, "title": "Wavelength (nm)"}},
    "y": {"field": "y", "type": "quantitative", "scale": {"domain": [0, 1.4], "nice": false}, "axis": {"values": [0,0.2,0.4,0.6,0.8,1,1.2,1.4], "tickCount": 20, "labelOverlap": false, "format": ".1~f", "title": "Absorbance (OD)"}},
    "color": {"field": "s", "type": "nominal", "scale": {"domain": ["96h","72h","48h","32h","16h","8h","1h"], "range": ["#FF4545","#4F75B5","#9BBB59","#8D78B5","#4BACC6","#F79646","#A9B9DE"]}}
   }},
  {"data": {"values": [{"x": 557, "y": 1.11, "t": "542 nm"}]},
   "mark": {"type": "text"},
   "encoding": {"x": {"field": "x", "type": "quantitative"}, "y": {"field": "y", "type": "quantitative"}, "text": {"field": "t"}}}
 ]
},
{
 "width": 295, "height": 187,
 "title": {"text": "(c)", "dx": -40},
 "layer": [
  {"data": {"name": "c"},
   "mark": {"type": "line", "interpolate": "monotone", "strokeWidth": 1.4},
   "encoding": {
    "x": {"field": "x", "type": "quantitative", "scale": {"domain": [300, 800], "nice": false}, "axis": {"values": [300,350,400,450,500,550,600,650,700,750,800], "tickCount": 20, "labelOverlap": false, "title": "Wavelength (nm)"}},
    "y": {"field": "y", "type": "quantitative", "scale": {"domain": [0, 1.4], "nice": false}, "axis": {"values": [0,0.2,0.4,0.6,0.8,1,1.2,1.4], "tickCount": 20, "labelOverlap": false, "format": ".1~f", "title": "Absorbance (OD)"}},
    "color": {"field": "s", "type": "nominal", "scale": {"domain": ["96h","72h","48h","32h","16h","8h","1h"], "range": ["#FF4545","#4F75B5","#9BBB59","#8D78B5","#4BACC6","#F79646","#A9B9DE"]}}
   }},
  {"data": {"values": [{"x": 593, "y": 1.29, "t": "582 nm"}]},
   "mark": {"type": "text"},
   "encoding": {"x": {"field": "x", "type": "quantitative"}, "y": {"field": "y", "type": "quantitative"}, "text": {"field": "t"}}}
 ]
},
{
 "width": 295, "height": 187,
 "title": {"text": "(d)", "dx": -47},
 "layer": [
  {"data": {"name": "d"},
   "mark": {"type": "line", "interpolate": "monotone", "strokeWidth": 1.4},
   "encoding": {
    "x": {"field": "x", "type": "quantitative", "scale": {"domain": [300, 800], "nice": false}, "axis": {"values": [300,350,400,450,500,550,600,650,700,750,800], "tickCount": 20, "labelOverlap": false, "title": "Wavelength (nm)"}},
    "y": {"field": "y", "type": "quantitative", "scale": {"domain": [0, 1.6], "nice": false}, "axis": {"values": [0,0.2,0.4,0.6,0.8,1,1.2,1.4,1.6], "tickCount": 20, "labelOverlap": false, "format": ".1~f", "title": "Absorbance (OD)"}},
    "color": {"field": "s", "type": "nominal", "scale": {"domain": ["96h","72h","48h","32h","16h","8h","1h"], "range": ["#FF4545","#4F75B5","#9BBB59","#8D78B5","#4BACC6","#F79646","#A9B9DE"]}, "legend": {"legendY": 5}}
   }},
  {"data": {"values": [{"x": 381, "y": 1.5, "t": "367 nm"}]},
   "mark": {"type": "text"},
   "encoding": {"x": {"field": "x", "type": "quantitative"}, "y": {"field": "y", "type": "quantitative"}, "text": {"field": "t"}}}
 ]
}
]
}
